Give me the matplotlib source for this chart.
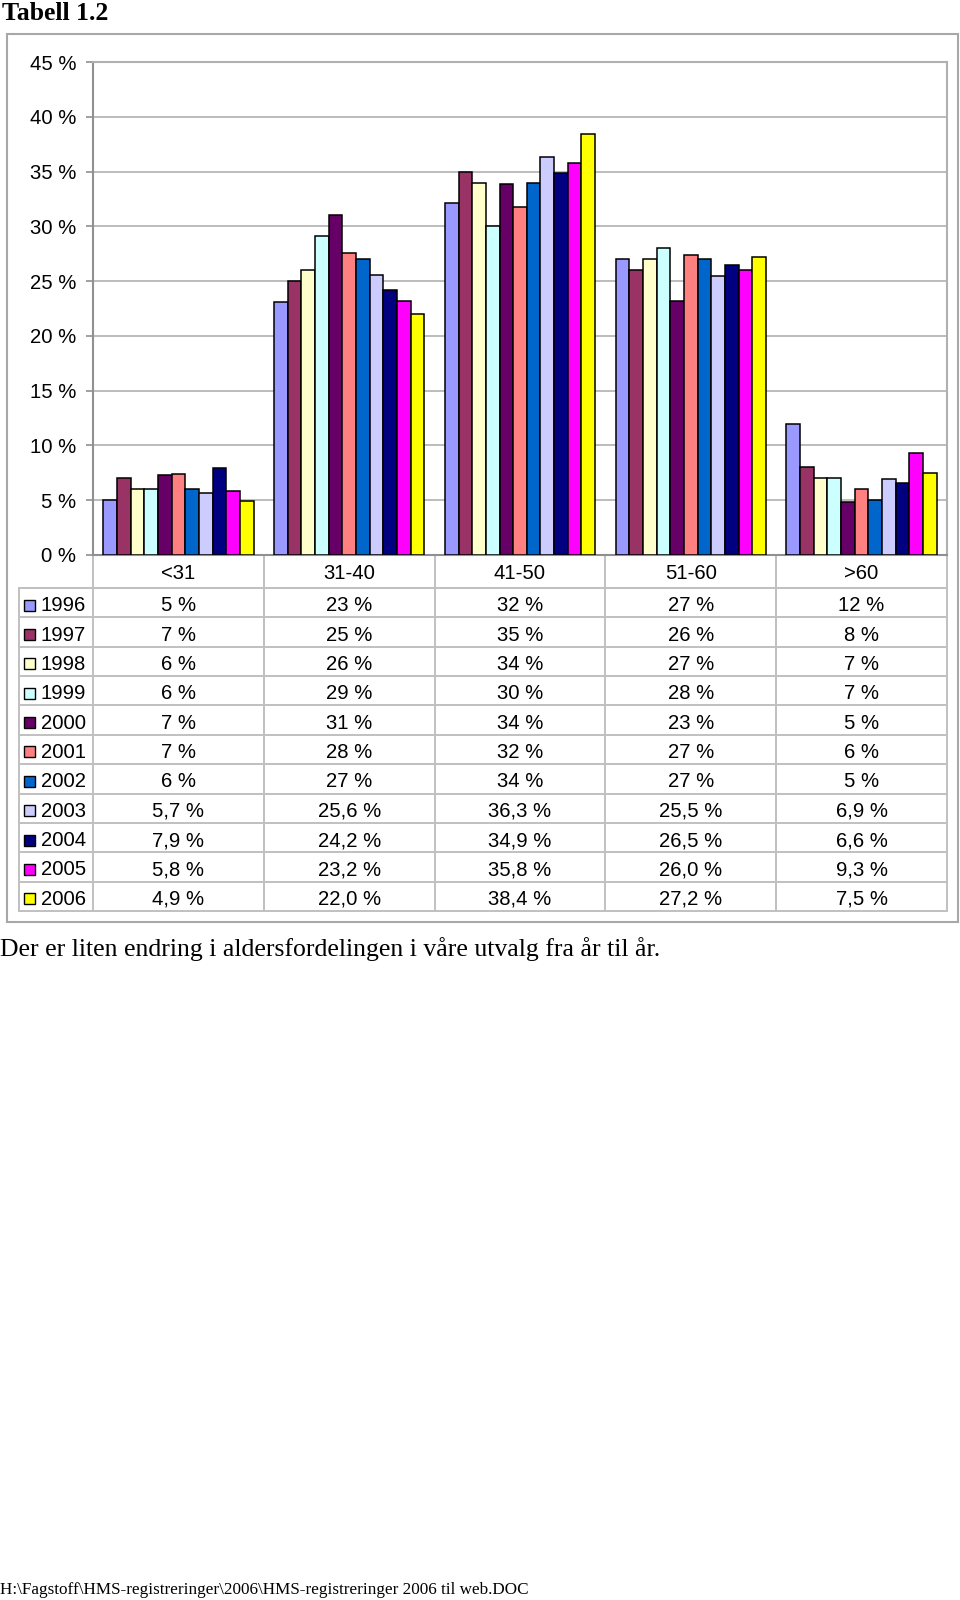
import matplotlib

matplotlib.use("Agg")
import matplotlib.pyplot as plt
from matplotlib.patches import Rectangle

# age groups and survey years
categories = ["<31", "31-40", "41-50", "51-60", ">60"]
years = ["1996", "1997", "1998", "1999", "2000", "2001",
         "2002", "2003", "2004", "2005", "2006"]

# share per age group (%), one list per year
v1996 = [5.0, 23.1, 32.1, 27.0, 12.0]
v1997 = [7.0, 25.0, 35.0, 26.0, 8.0]
v1998 = [6.0, 26.0, 34.0, 27.0, 7.0]
v1999 = [6.0, 29.1, 30.0, 28.0, 7.0]
v2000 = [7.3, 31.0, 33.9, 23.2, 4.8]
v2001 = [7.4, 27.6, 31.8, 27.4, 6.0]
v2002 = [6.0, 27.0, 34.0, 27.0, 5.0]
v2003 = [5.7, 25.6, 36.3, 25.5, 6.9]
v2004 = [7.9, 24.2, 34.9, 26.5, 6.6]
v2005 = [5.8, 23.2, 35.8, 26.0, 9.3]
v2006 = [4.9, 22.0, 38.4, 27.2, 7.5]
values = [v1996, v1997, v1998, v1999, v2000, v2001,
          v2002, v2003, v2004, v2005, v2006]
# decimals shown in the data table
decimals = [0, 0, 0, 0, 0, 0, 0, 1, 1, 1, 1]

yticks = [0, 5, 10, 15, 20, 25, 30, 35, 40, 45]

colors = ["#9999FF", "#993366", "#FFFFCC", "#CCFFFF", "#660066", "#FF8080",
          "#0066CC", "#CCCCFF", "#000080", "#FF00FF", "#FFFF00"]

SANS = "Liberation Sans"
SERIF = "Liberation Serif"
W, H = 960, 1600
FS = 14.6

# layout in pixels
plot_l, plot_r, plot_t, plot_b = 93, 947, 62, 555
row_top, row_h = 588, 29.36
label_l = 19
grid_col = "#c0c0c0"

fig = plt.figure(figsize=(W / 100, H / 100), dpi=100)
fig.patch.set_facecolor("white")

over = fig.add_axes([0, 0, 1, 1])
over.set_xlim(0, W)
over.set_ylim(H, 0)
over.axis("off")

ax = fig.add_axes([plot_l / W, 1 - plot_b / H,
                   (plot_r - plot_l) / W, (plot_b - plot_t) / H])

n = len(years)
bw = 1 / (n + 1.5)
for i, (yr, vals, col) in enumerate(zip(years, values, colors)):
    xs = [c + (i - (n - 1) / 2) * bw for c in range(len(categories))]
    ax.bar(xs, vals, width=bw, color=col, edgecolor="black", linewidth=1.1,
           zorder=3, label=yr)

ax.set_xlim(-0.5, len(categories) - 0.5)
ax.set_ylim(0, 45)
ax.set_yticks(yticks)
ax.set_yticklabels([f"{t} %" for t in yticks], fontsize=FS, family=SANS)
ax.set_xticks([])
ax.yaxis.grid(True, color="#b0b0b0", linewidth=1.2, zorder=0)
ax.tick_params(axis="y", length=5, width=1.2, color="#909090", pad=7)
for side in ["left", "bottom"]:
    ax.spines[side].set_color("#909090")
    ax.spines[side].set_linewidth(1.5)
for side in ["top", "right"]:
    ax.spines[side].set_color("#b0b0b0")
    ax.spines[side].set_linewidth(1.5)

# outer chart frame
over.add_patch(Rectangle((7, 34), 951, 888, fill=False,
                         edgecolor="#a8a8a8", linewidth=1.5))

# data table below the plot
col_w = (plot_r - plot_l) / len(categories)
n_rows = len(years)
table_bot = row_top + n_rows * row_h
for k in range(n_rows + 1):
    y = row_top + k * row_h
    over.plot([label_l, plot_r], [y, y], color=grid_col, linewidth=1.4)
over.plot([label_l, label_l], [row_top, table_bot], color=grid_col, linewidth=1.4)
for j in range(len(categories) + 1):
    x = plot_l + j * col_w
    over.plot([x, x], [plot_b, table_bot], color=grid_col, linewidth=1.4)

for j, cat in enumerate(categories):
    over.text(plot_l + (j + 0.5) * col_w, (plot_b + row_top) / 2 + 2, cat,
              ha="center", va="center", fontsize=FS, family=SANS)

for i, (yr, vals, col, d) in enumerate(zip(years, values, colors, decimals)):
    yc = row_top + (i + 0.5) * row_h + 3
    over.add_patch(Rectangle((24, yc - 6), 11, 11, facecolor=col,
                             edgecolor="black", linewidth=1.0))
    over.text(41, yc, yr, ha="left", va="center", fontsize=FS, family=SANS)
    for j, v in enumerate(vals):
        txt = f"{v:.{d}f} %".replace(".", ",")
        over.text(plot_l + (j + 0.5) * col_w, yc, txt,
                  ha="center", va="center", fontsize=FS, family=SANS)

over.text(2, 14, "Tabell 1.2", ha="left", va="center", fontsize=18.5,
          family=SERIF, fontweight="bold")
over.text(0, 949,
          "Der er liten endring i aldersfordelingen i våre utvalg fra år til år.",
          ha="left", va="center", fontsize=18.5, family=SERIF)
over.text(0, 1590,
          "H:\\Fagstoff\\HMS-registreringer\\2006\\HMS-registreringer 2006 til web.DOC",
          ha="left", va="center", fontsize=12.3, family=SERIF)

fig.savefig("out.png", dpi=100)
